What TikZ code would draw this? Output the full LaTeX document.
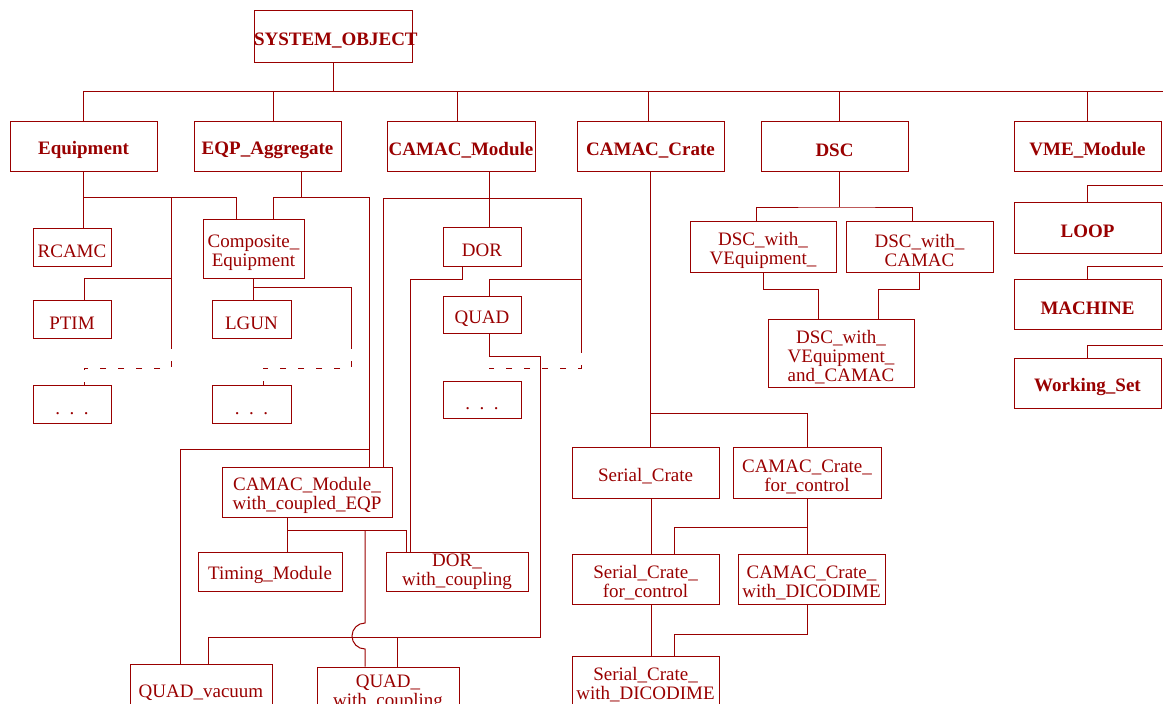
\documentclass[tikz,border=0pt]{standalone}
\usepackage{fontspec}
\setmainfont{Liberation Serif}
\definecolor{omtred}{RGB}{153,0,0}

\begin{document}
\begin{tikzpicture}[x=1pt,y=-1pt,color=omtred,line width=1pt,
    cbox/.style 2 args={draw, text width=#1pt, minimum height=#2pt, inner xsep=0pt, inner ysep=1pt, text height=21pt, align=center, font=\fontsize{19}{19}\selectfont},
    cboxb/.style 2 args={cbox={#1}{#2}, font=\fontsize{19}{19}\selectfont\bfseries},
    dashline/.style={dash pattern=on 6pt off 12pt}]
    \useasboundingbox (0,0) rectangle (1163,704);
    \clip (0,0) rectangle (1163,704);

    % Classes de premier niveau
    \node[cboxb={158}{52}] (sys) at (333,36) {SYSTEM\_OBJECT};
    \node[cboxb={147}{50}] (equip) at (83.5,146) {Equipment};
    \node[cboxb={147}{50}] (eqpagg) at (267.5,146) {EQP\_Aggregate};
    \node[cboxb={148}{50}] (cmod) at (461,146) {CAMAC\_Module};
    \node[cboxb={147}{50}] (ccrate) at (650.5,146) {CAMAC\_Crate};
    \node[cboxb={147}{50}] (dsc) at (834.5,146) {DSC};
    \node[cboxb={147}{50}] (vme) at (1087.5,146) {VME\_Module};
    \node[cboxb={147}{51}] (loop) at (1087.5,227.5) {LOOP};
    \node[cboxb={147}{50}] (machine) at (1087.5,304) {MACHINE};
    \node[cboxb={147}{50}] (wset) at (1087.5,383) {Working\_Set};

    % Sous-classes
    \node[cbox={78}{38}] (rcamc) at (72,247) {RCAMC};
    \node[cbox={78}{38}] (ptim) at (72,319) {PTIM};
    \node[cbox={78}{38}] (dotsA) at (72,404) {. . .};
    \node[cbox={101}{59}] (compeq) at (253.5,248.5) {Composite\_\\Equipment};
    \node[cbox={79}{38}] (lgun) at (251.5,319) {LGUN};
    \node[cbox={79}{38}] (dotsB) at (251.5,404) {. . .};
    \node[cbox={78}{39}] (dor) at (482,246.5) {DOR};
    \node[cbox={78}{37}] (quad) at (482,314.5) {QUAD};
    \node[cbox={78}{37}] (dotsC) at (482,399.5) {. . .};
    \node[cbox={170}{50}] (cmce) at (307,492) {CAMAC\_Module\_\\with\_coupled\_EQP};
    \node[cbox={144}{39}] (timing) at (270,571.5) {Timing\_Module};
    \node[cbox={142}{39}, text height=13pt] (dorwc) at (457,571.5) {DOR\_\\with\_coupling};
    \node[cbox={142}{50}] (quadvac) at (201,689) {QUAD\_vacuum};
    \node[cbox={142}{50}, text height=14pt] (quadwc) at (388,692) {QUAD\_\\with\_coupling};
    \node[cbox={147}{51}] (serial) at (645.5,472.5) {Serial\_Crate};
    \node[cbox={148}{51}] (ccfc) at (807,472.5) {CAMAC\_Crate\_\\for\_control};
    \node[cbox={147}{50}] (scfc) at (645.5,579) {Serial\_Crate\_\\for\_control};
    \node[cbox={147}{50}] (ccwd) at (811.5,579) {CAMAC\_Crate\_\\with\_DICODIME};
    \node[cbox={147}{50}] (scwd) at (645.5,681) {Serial\_Crate\_\\with\_DICODIME};
    \node[cbox={146}{51}] (dscve) at (763,246.5) {DSC\_with\_\\VEquipment\_};
    \node[cbox={147}{51}] (dscc) at (919.5,246.5) {DSC\_with\_\\CAMAC};
    \node[cbox={146}{68}] (dscvc) at (841,353) {DSC\_with\_\\VEquipment\_\\and\_CAMAC};

    % Bus principal
    \coordinate (busE) at (1163,91);
    \draw (equip.north) |- (busE);
    \draw (sys.south) -- (sys.south |- busE);
    \draw ([xshift=5.5pt]eqpagg.north) -- ([xshift=5.5pt]eqpagg.north |- busE);
    \draw ([xshift=-4pt]cmod.north) -- ([xshift=-4pt]cmod.north |- busE);
    \draw ([xshift=-2.5pt]ccrate.north) -- ([xshift=-2.5pt]ccrate.north |- busE);
    \draw ([xshift=4.5pt]dsc.north) -- ([xshift=4.5pt]dsc.north |- busE);
    \draw (vme.north) -- (vme.north |- busE);

    % Equipment
    \coordinate (eqbus) at (171,197);
    \coordinate (eqdash) at (171,343);
    \coordinate (ptimfork) at (171,278);
    \coordinate (dashlvl) at (0,368);
    \draw (equip.south) -- (equip.south |- rcamc.north);
    \draw (equip.south |- eqbus) -| ([xshift=-17.5pt]compeq.north);
    \draw (eqbus) -- (eqdash);
    \draw (ptimfork) -| ([xshift=12pt]ptim.north);
    \draw[dashline] (eqdash) |- ([xshift=12pt]dotsA.north |- dashlvl) -- ([xshift=12pt]dotsA.north);

    % EQP_Aggregate
    \coordinate (aggbus) at (369,197);
    \coordinate (vacfork) at (369,449);
    \draw ([xshift=33.5pt]eqpagg.south) -- ([xshift=33.5pt]eqpagg.south |- aggbus);
    \draw ([xshift=19.5pt]compeq.north) |- (aggbus) -- ([xshift=62pt]cmce.north);
    \draw (vacfork) -| ([xshift=-21pt]quadvac.north);

    % Composite_Equipment
    \coordinate (cefork) at (351,287);
    \coordinate (cedash) at (351,343);
    \draw (compeq.south) -- (compeq.south |- lgun.north);
    \draw (compeq.south |- cefork) -| (cedash);
    \draw[dashline] (cedash) |- ([xshift=11.5pt]dotsB.north |- dashlvl) -- ([xshift=11.5pt]dotsB.north);

    % CAMAC_Module
    \coordinate (cmbus) at (581,198);
    \coordinate (cmdash) at (581,347);
    \coordinate (quadfork) at (581,279);
    \draw ([xshift=28pt]cmod.south) -- ([xshift=7pt]dor.north);
    \draw ([xshift=76pt]cmce.north) |- (cmbus) -- (cmdash);
    \draw (quadfork) -| ([xshift=7pt]quad.north);
    \draw[dashline] (cmdash) |- ([xshift=7pt]dotsC.north |- dashlvl) -- ([xshift=7pt]dotsC.north);

    % DOR et QUAD
    \coordinate (quadbend) at (540,356);
    \coordinate (quadlow) at (540,637);
    \draw ([xshift=-20pt]dor.south) |- ([xshift=-47pt]dorwc.north |- quadfork) -- ([xshift=-47pt]dorwc.north);
    \draw ([xshift=7pt]quad.south) |- (quadbend) -- (quadlow) -| ([xshift=7pt]quadvac.north);
    \draw ([xshift=9pt]quadwc.north) -- ([xshift=9pt]quadwc.north |- quadlow);

    % CAMAC_Module_with_coupled_EQP
    \coordinate (cmcefork) at (287,530);
    \coordinate (hoptop) at (365,623);
    \draw ([xshift=-20pt]cmce.south) -- ([xshift=17pt]timing.north);
    \draw (cmcefork) -| ([xshift=-51pt]dorwc.north);
    \draw (hoptop |- cmcefork) -- (hoptop) arc[start angle=90,end angle=270,radius=13pt] -- ([xshift=-23pt]quadwc.north);

    % CAMAC_Crate
    \coordinate (crbus) at (651,413);
    \coordinate (ctlbus) at (807,527);
    \coordinate (dicobus) at (807,634);
    \draw (ccrate.south) -- (ccrate.south |- serial.north);
    \draw (crbus) -| (ccfc.north);
    \draw ([xshift=5.5pt]serial.south) -- ([xshift=5.5pt]scfc.north);
    \draw (ccfc.south) -- ([xshift=-4.5pt]ccwd.north);
    \draw (ctlbus) -| ([xshift=28.5pt]scfc.north);
    \draw ([xshift=5.5pt]scfc.south) -- ([xshift=5.5pt]scwd.north);
    \draw ([xshift=-4.5pt]ccwd.south) -- (dicobus) -| ([xshift=28.5pt]scwd.north);

    % DSC
    \coordinate (dscbus) at (839,207);
    \coordinate (dscmid) at (841,289);
    \draw ([xshift=4.5pt]dsc.south) -- (dscbus);
    \draw ([xshift=-7pt]dscve.north) |- (dscbus) -| ([xshift=-7.5pt]dscc.north);
    \draw (dscve.south) |- ([xshift=-23pt]dscvc.north |- dscmid) -- ([xshift=-23pt]dscvc.north);
    \draw (dscc.south) |- ([xshift=37pt]dscvc.north |- dscmid) -- ([xshift=37pt]dscvc.north);

    % Colonne de droite
    \coordinate (rimA) at (1163,185);
    \coordinate (rimB) at (1163,266);
    \coordinate (rimC) at (1163,345);
    \draw (loop.north) |- (rimA);
    \draw (machine.north) |- (rimB);
    \draw (wset.north) |- (rimC);
\end{tikzpicture}
\end{document}
